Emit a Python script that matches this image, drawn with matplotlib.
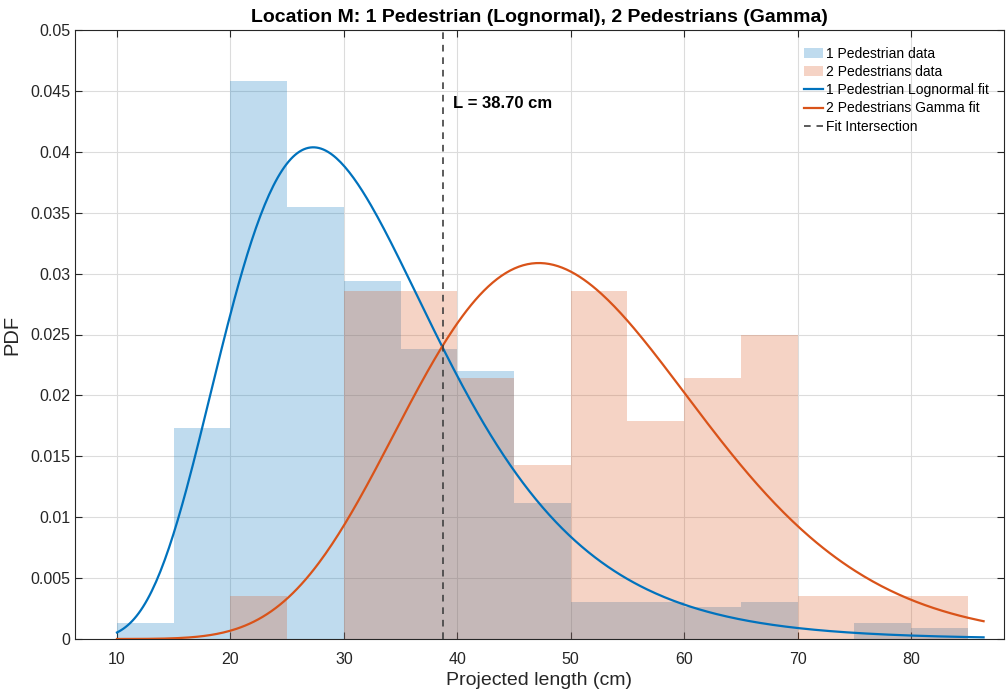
import math

import numpy as np
import matplotlib
matplotlib.use('Agg')
import matplotlib.pyplot as plt

plt.rcParams['font.family'] = ['Liberation Sans', 'DejaVu Sans']

# histogram bins (left edges, width 5 cm)
bin_left = [10, 15, 20, 25, 30, 35, 40, 45, 50, 55, 60, 65, 70, 75, 80]
ped1_pdf = [0.00134, 0.0173, 0.0458, 0.0355, 0.0294, 0.0238, 0.0220, 0.0112,
            0.00304, 0.00304, 0.0026, 0.00304, 0.0, 0.00134, 0.00088]
ped2_pdf = [0.0, 0.0, 0.00357, 0.0, 0.02857, 0.02857, 0.02143, 0.01429,
            0.02857, 0.01786, 0.02143, 0.025, 0.00357, 0.00357, 0.00357]

# fitted distributions
logn_mu, logn_sigma = 3.4235, 0.3415
gam_k, gam_theta = 14.5, 3.496
fit_xmin, fit_xmax = 10.0, 86.4
intersection = 38.70

blue = '#0072BD'
orange = '#D95319'

x = np.linspace(fit_xmin, fit_xmax, 400)
logn = np.exp(-(np.log(x) - logn_mu) ** 2 / (2 * logn_sigma ** 2)) / (x * logn_sigma * math.sqrt(2 * math.pi))
gam = np.exp((gam_k - 1) * np.log(x) - x / gam_theta - math.lgamma(gam_k) - gam_k * math.log(gam_theta))

fig = plt.figure(figsize=(10.06, 6.92), dpi=100)
ax = fig.add_axes([75 / 1006, 1 - 639 / 692, 929 / 1006, 609 / 692])

b1 = ax.bar(bin_left, ped1_pdf, width=5, align='edge', color=blue, alpha=0.25,
            linewidth=0, label='1 Pedestrian data', zorder=2)
b2 = ax.bar(bin_left, ped2_pdf, width=5, align='edge', color=orange, alpha=0.25,
            linewidth=0, label='2 Pedestrians data', zorder=2)
l1, = ax.plot(x, logn, color=blue, lw=1.6, label='1 Pedestrian Lognormal fit', zorder=3)
l2, = ax.plot(x, gam, color=orange, lw=1.6, label='2 Pedestrians Gamma fit', zorder=3)
l3 = ax.axvline(intersection, color='#404040', lw=1.2, ls=(0, (4, 3.5)),
                label='Fit Intersection', zorder=3)
ax.text(intersection + 0.93, 0.0440, f'L = {intersection:.2f} cm', fontsize=12,
        fontweight='bold', va='center', ha='left')

ax.set_xlim(6.3, 88.2)
ax.set_ylim(0, 0.05)
ax.set_xticks(range(10, 81, 10))
ax.set_yticks(np.arange(0, 0.0501, 0.005))
ax.set_yticklabels(['0', '0.005', '0.01', '0.015', '0.02', '0.025', '0.03',
                    '0.035', '0.04', '0.045', '0.05'])
ax.grid(True, color='#dcdcdc', lw=0.8, zorder=1)
ax.set_axisbelow(True)
ax.tick_params(direction='in', top=True, right=True, labelsize=11.5,
               colors='#262626', length=5)
ax.tick_params(axis='x', pad=9)
for s in ax.spines.values():
    s.set_color('#262626')
    s.set_linewidth(0.8)

ax.set_xlabel('Projected length (cm)', fontsize=14, color='#262626', labelpad=4)
ax.set_ylabel('PDF', fontsize=14.5, color='#262626', labelpad=6)
ax.set_title('Location M: 1 Pedestrian (Lognormal), 2 Pedestrians (Gamma)',
             fontsize=14, fontweight='bold', pad=6)

ax.legend([b1, b2, l1, l2, l3],
          ['1 Pedestrian data', '2 Pedestrians data', '1 Pedestrian Lognormal fit',
           '2 Pedestrians Gamma fit', 'Fit Intersection'],
          loc='upper left', bbox_to_anchor=(804 / 1006, 1 - 47 / 692),
          bbox_transform=fig.transFigure, frameon=False, fontsize=10,
          borderpad=0, borderaxespad=0, handlelength=1.4, handletextpad=0.15,
          labelspacing=0.3)

fig.savefig('out.png', dpi=100)
